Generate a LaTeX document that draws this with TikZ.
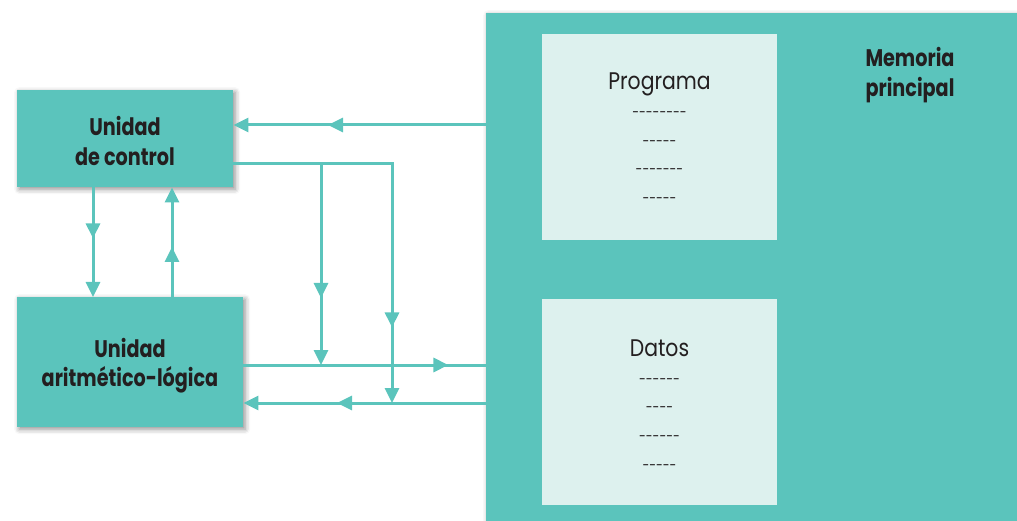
\documentclass[tikz,border=0pt]{standalone}
\usepackage{fontspec}
\newfontfamily\diagfont{Poppins}[FakeStretch=0.85]
\newfontfamily\headfont{Poppins}[FakeStretch=0.8]
\usetikzlibrary{arrows.meta,decorations.markings,shadows.blur}
\definecolor{memteal}{HTML}{5BC4BC}
\definecolor{storefill}{HTML}{DDF1EE}
\definecolor{ink}{HTML}{231F20}
% a row of n short hyphens
\newcommand\dashrow[1]{\foreach\k in {1,...,#1}{-}}
\begin{document}
\begin{tikzpicture}[x=1pt,y=-1pt,
  tip/.tip={Triangle[length=15pt,width=14pt]},
  softshadow/.style={blur shadow={shadow xshift=2pt,shadow yshift=-2pt,
      shadow blur radius=5pt,shadow opacity=45}},
  unitbox/.style={rectangle,fill=memteal,inner sep=0pt,anchor=north west,softshadow},
  membox/.style={rectangle,fill=memteal,inner sep=0pt,anchor=north west,softshadow},
  storebox/.style={rectangle,fill=storefill,inner sep=0pt,anchor=north west},
  title/.style={align=center,text=ink,inner sep=0pt,
      font=\headfont\bfseries\fontsize{24}{29.5}\selectfont},
  listline/.style={anchor=base,inner sep=0pt,text=ink,
      font=\diagfont\fontsize{24}{29}\selectfont},
  dashline/.style={anchor=base,inner sep=0pt,text=ink,
      font=\diagfont\fontsize{14.5}{16}\selectfont},
  flow/.style={draw=memteal,line width=3pt,-tip},
  mid tip/.style={postaction={decorate},
      decoration={markings,mark=at position #1 with {\arrow{tip}}}}]
\useasboundingbox (0,0) rectangle (1017,521);

% main memory with its two areas
\node[membox,minimum width=620pt,minimum height=560pt] (mem) at (486,13) {};
\node[storebox,minimum width=235pt,minimum height=206pt] (prog) at (542,34) {};
\node[storebox,minimum width=235pt,minimum height=206pt] (datos) at (542,299) {};
\node[title] (memlabel) at (910,75) {Memoria\\principal};

% contents of the program area
\node[listline] (p1) at (659.5,89.5) {Programa};
\node[dashline] (p2) at (659.5,118) {\dashrow{8}};
\node[dashline] (p3) at (659.5,147) {\dashrow{5}};
\node[dashline] (p4) at (659.5,175) {\dashrow{7}};
\node[dashline] (p5) at (659.5,204) {\dashrow{5}};

% contents of the data area
\node[listline] (d1) at (659.5,356.5) {Datos};
\node[dashline] (d2) at (659.5,384) {\dashrow{6}};
\node[dashline] (d3) at (659.5,412) {\dashrow{4}};
\node[dashline] (d4) at (659.5,441) {\dashrow{6}};
\node[dashline] (d5) at (659.5,470) {\dashrow{5}};

% processor units
\node[unitbox,minimum width=216pt,minimum height=97pt] (uc) at (17,90) {};
\node[title] (uclabel) at (125,141) {Unidad\\de control};
\node[unitbox,minimum width=226pt,minimum height=130pt] (alu) at (17,297) {};
\node[title] (alulabel) at (130,365.5) {Unidad\\aritmético-lógica};

% rails of the buses
\coordinate (xa) at (93,0);
\coordinate (xb) at (172,0);
\coordinate (xc) at (321,0);
\coordinate (xd) at (392,0);
\coordinate (ya) at (0,125);
\coordinate (yb) at (0,164);
\coordinate (yc) at (0,365);
\coordinate (yd) at (0,403);

% instructions from memory to the control unit
\draw[flow,mid tip=158pt] (mem.west |- ya) -- (uc.east |- ya);
% control unit <-> ALU
\draw[flow,mid tip=51pt] (uc.south -| xa) -- (alu.north -| xa);
\draw[flow,mid tip=50pt] (alu.north -| xb) -- (uc.south -| xb);
% control signals
\draw[flow,mid tip=322pt] (uc.east |- yb) -| (xd |- yd);
\draw[flow,mid tip=134pt] (xc |- yb) -- (xc |- yc);
% data between ALU and memory
\draw[flow,-,mid tip=205pt] (alu.east |- yc) -- (mem.west |- yc);
\draw[flow,mid tip=149pt] (mem.west |- yd) -- (alu.east |- yd);
\end{tikzpicture}
\end{document}
